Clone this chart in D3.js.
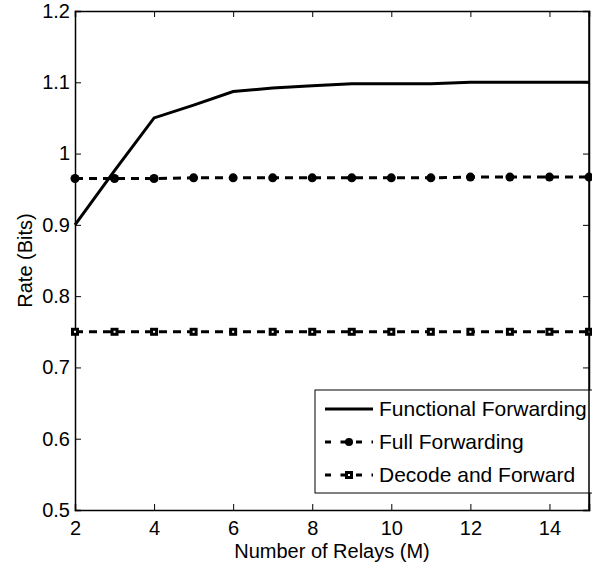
<!DOCTYPE html>
<html>
<head>
<meta charset="utf-8">
<script src="https://cdn.jsdelivr.net/npm/d3@7"></script>
<style>
body { margin: 0; background: #fff; }
text { font-family: "Liberation Sans", Arial, sans-serif; }
</style>
</head>
<body>
<div id="chart-area"></div>
<script>
// data
var relays = [2, 3, 4, 5, 6, 7, 8, 9, 10, 11, 12, 13, 14, 15];
var functional = [0.900, 0.976, 1.050, 1.068, 1.087, 1.092, 1.095, 1.098, 1.098, 1.098, 1.100, 1.100, 1.100, 1.100];
var full = [0.965, 0.965, 0.965, 0.966, 0.966, 0.966, 0.966, 0.966, 0.966, 0.966, 0.967, 0.967, 0.967, 0.967];
var decode = [0.75, 0.75, 0.75, 0.75, 0.75, 0.75, 0.75, 0.75, 0.75, 0.75, 0.75, 0.75, 0.75, 0.75];
var xTicks = [2, 4, 6, 8, 10, 12, 14];
var yTicks = [0.5, 0.6, 0.7, 0.8, 0.9, 1, 1.1, 1.2];
var legendNames = ["Functional Forwarding", "Full Forwarding", "Decode and Forward"];

var margin = {top: 11, right: 3, bottom: 56, left: 75};
var width = 592 - margin.left - margin.right,
    height = 566 - margin.top - margin.bottom;

var svg = d3.select("#chart-area").append("svg")
    .attr("width", 592)
    .attr("height", 566)
    .append("g")
    .attr("transform", "translate(" + margin.left + "," + margin.top + ")");

var x = d3.scaleLinear().domain([2, 15]).range([0, width]);
var y = d3.scaleLinear().domain([0.5, 1.2]).range([height, 0]);

// axes, ticks pointing inward like matlab
var fmt = function(d) { return d3.format("")(d); };
svg.append("g")
    .attr("class", "x-axis")
    .attr("transform", "translate(0," + height + ")")
    .call(d3.axisBottom(x).tickValues(xTicks).tickSize(-6).tickPadding(11).tickFormat(fmt));
svg.append("g")
    .call(d3.axisTop(x).tickValues(xTicks).tickSize(-6).tickFormat(""));
svg.append("g")
    .attr("class", "y-axis")
    .call(d3.axisLeft(y).tickValues(yTicks).tickSize(-6).tickPadding(5).tickFormat(fmt));
svg.append("g")
    .attr("transform", "translate(" + width + ",0)")
    .call(d3.axisRight(y).tickValues(yTicks).tickSize(-6).tickFormat(""));

svg.selectAll(".domain").attr("stroke", "#000").attr("stroke-width", 1.5);
svg.selectAll(".tick line").attr("stroke", "#000");
svg.selectAll(".tick text").attr("font-size", 20).attr("fill", "#000");

// axis labels
svg.append("text")
    .attr("x", width / 2)
    .attr("y", height + 48)
    .attr("text-anchor", "middle")
    .attr("font-size", 20)
    .text("Number of Relays (M)");
svg.append("text")
    .attr("transform", "translate(" + (-43) + "," + (height / 2) + ") rotate(-90)")
    .attr("text-anchor", "middle")
    .attr("font-size", 20)
    .text("Rate (Bits)");

var line = d3.line()
    .x(function(d, i) { return x(relays[i]); })
    .y(function(d) { return y(d); });

svg.append("path")
    .datum(functional)
    .attr("fill", "none")
    .attr("stroke", "#000")
    .attr("stroke-width", 3)
    .attr("d", line);

svg.append("path")
    .datum(full)
    .attr("fill", "none")
    .attr("stroke", "#000")
    .attr("stroke-width", 3)
    .attr("stroke-dasharray", "8,6")
    .attr("d", line);

svg.append("path")
    .datum(decode)
    .attr("fill", "none")
    .attr("stroke", "#000")
    .attr("stroke-width", 3)
    .attr("stroke-dasharray", "8,6")
    .attr("d", line);

svg.selectAll(".dot")
    .data(full)
    .enter().append("circle")
    .attr("class", "dot")
    .attr("cx", function(d, i) { return x(relays[i]); })
    .attr("cy", function(d) { return y(d); })
    .attr("r", 4.5)
    .attr("fill", "#000");

svg.selectAll(".sq")
    .data(decode)
    .enter().append("rect")
    .attr("class", "sq")
    .attr("x", function(d, i) { return x(relays[i]) - 2.5; })
    .attr("y", function(d) { return y(d) - 2.5; })
    .attr("width", 5)
    .attr("height", 5)
    .attr("fill", "#fff")
    .attr("stroke", "#000")
    .attr("stroke-width", 3);

// legend
var lg = svg.append("g").attr("transform", "translate(" + (315 - margin.left) + "," + (390 - margin.top) + ")");
lg.append("rect")
    .attr("width", 290)
    .attr("height", 103)
    .attr("fill", "#fff")
    .attr("stroke", "#000")
    .attr("stroke-width", 1);

legendNames.forEach(function(name, i) {
    var ly = 19 + i * 33;
    var l = lg.append("line")
        .attr("x1", 10).attr("x2", 58)
        .attr("y1", ly).attr("y2", ly)
        .attr("stroke", "#000")
        .attr("stroke-width", 3);
    if (i > 0) l.attr("stroke-dasharray", "6,9.5");
    if (i === 1) {
        lg.append("circle").attr("cx", 34).attr("cy", ly).attr("r", 4).attr("fill", "#000");
    }
    if (i === 2) {
        lg.append("rect").attr("x", 31.5).attr("y", ly - 2.5).attr("width", 5).attr("height", 5)
            .attr("fill", "#fff").attr("stroke", "#000").attr("stroke-width", 3);
    }
    lg.append("text")
        .attr("x", 64)
        .attr("y", ly + 7)
        .attr("font-size", 21)
        .text(name);
});

// redraw right border over legend
svg.append("line")
    .attr("x1", width).attr("x2", width)
    .attr("y1", 0).attr("y2", height)
    .attr("stroke", "#000").attr("stroke-width", 1.5);
</script>
</body>
</html>
